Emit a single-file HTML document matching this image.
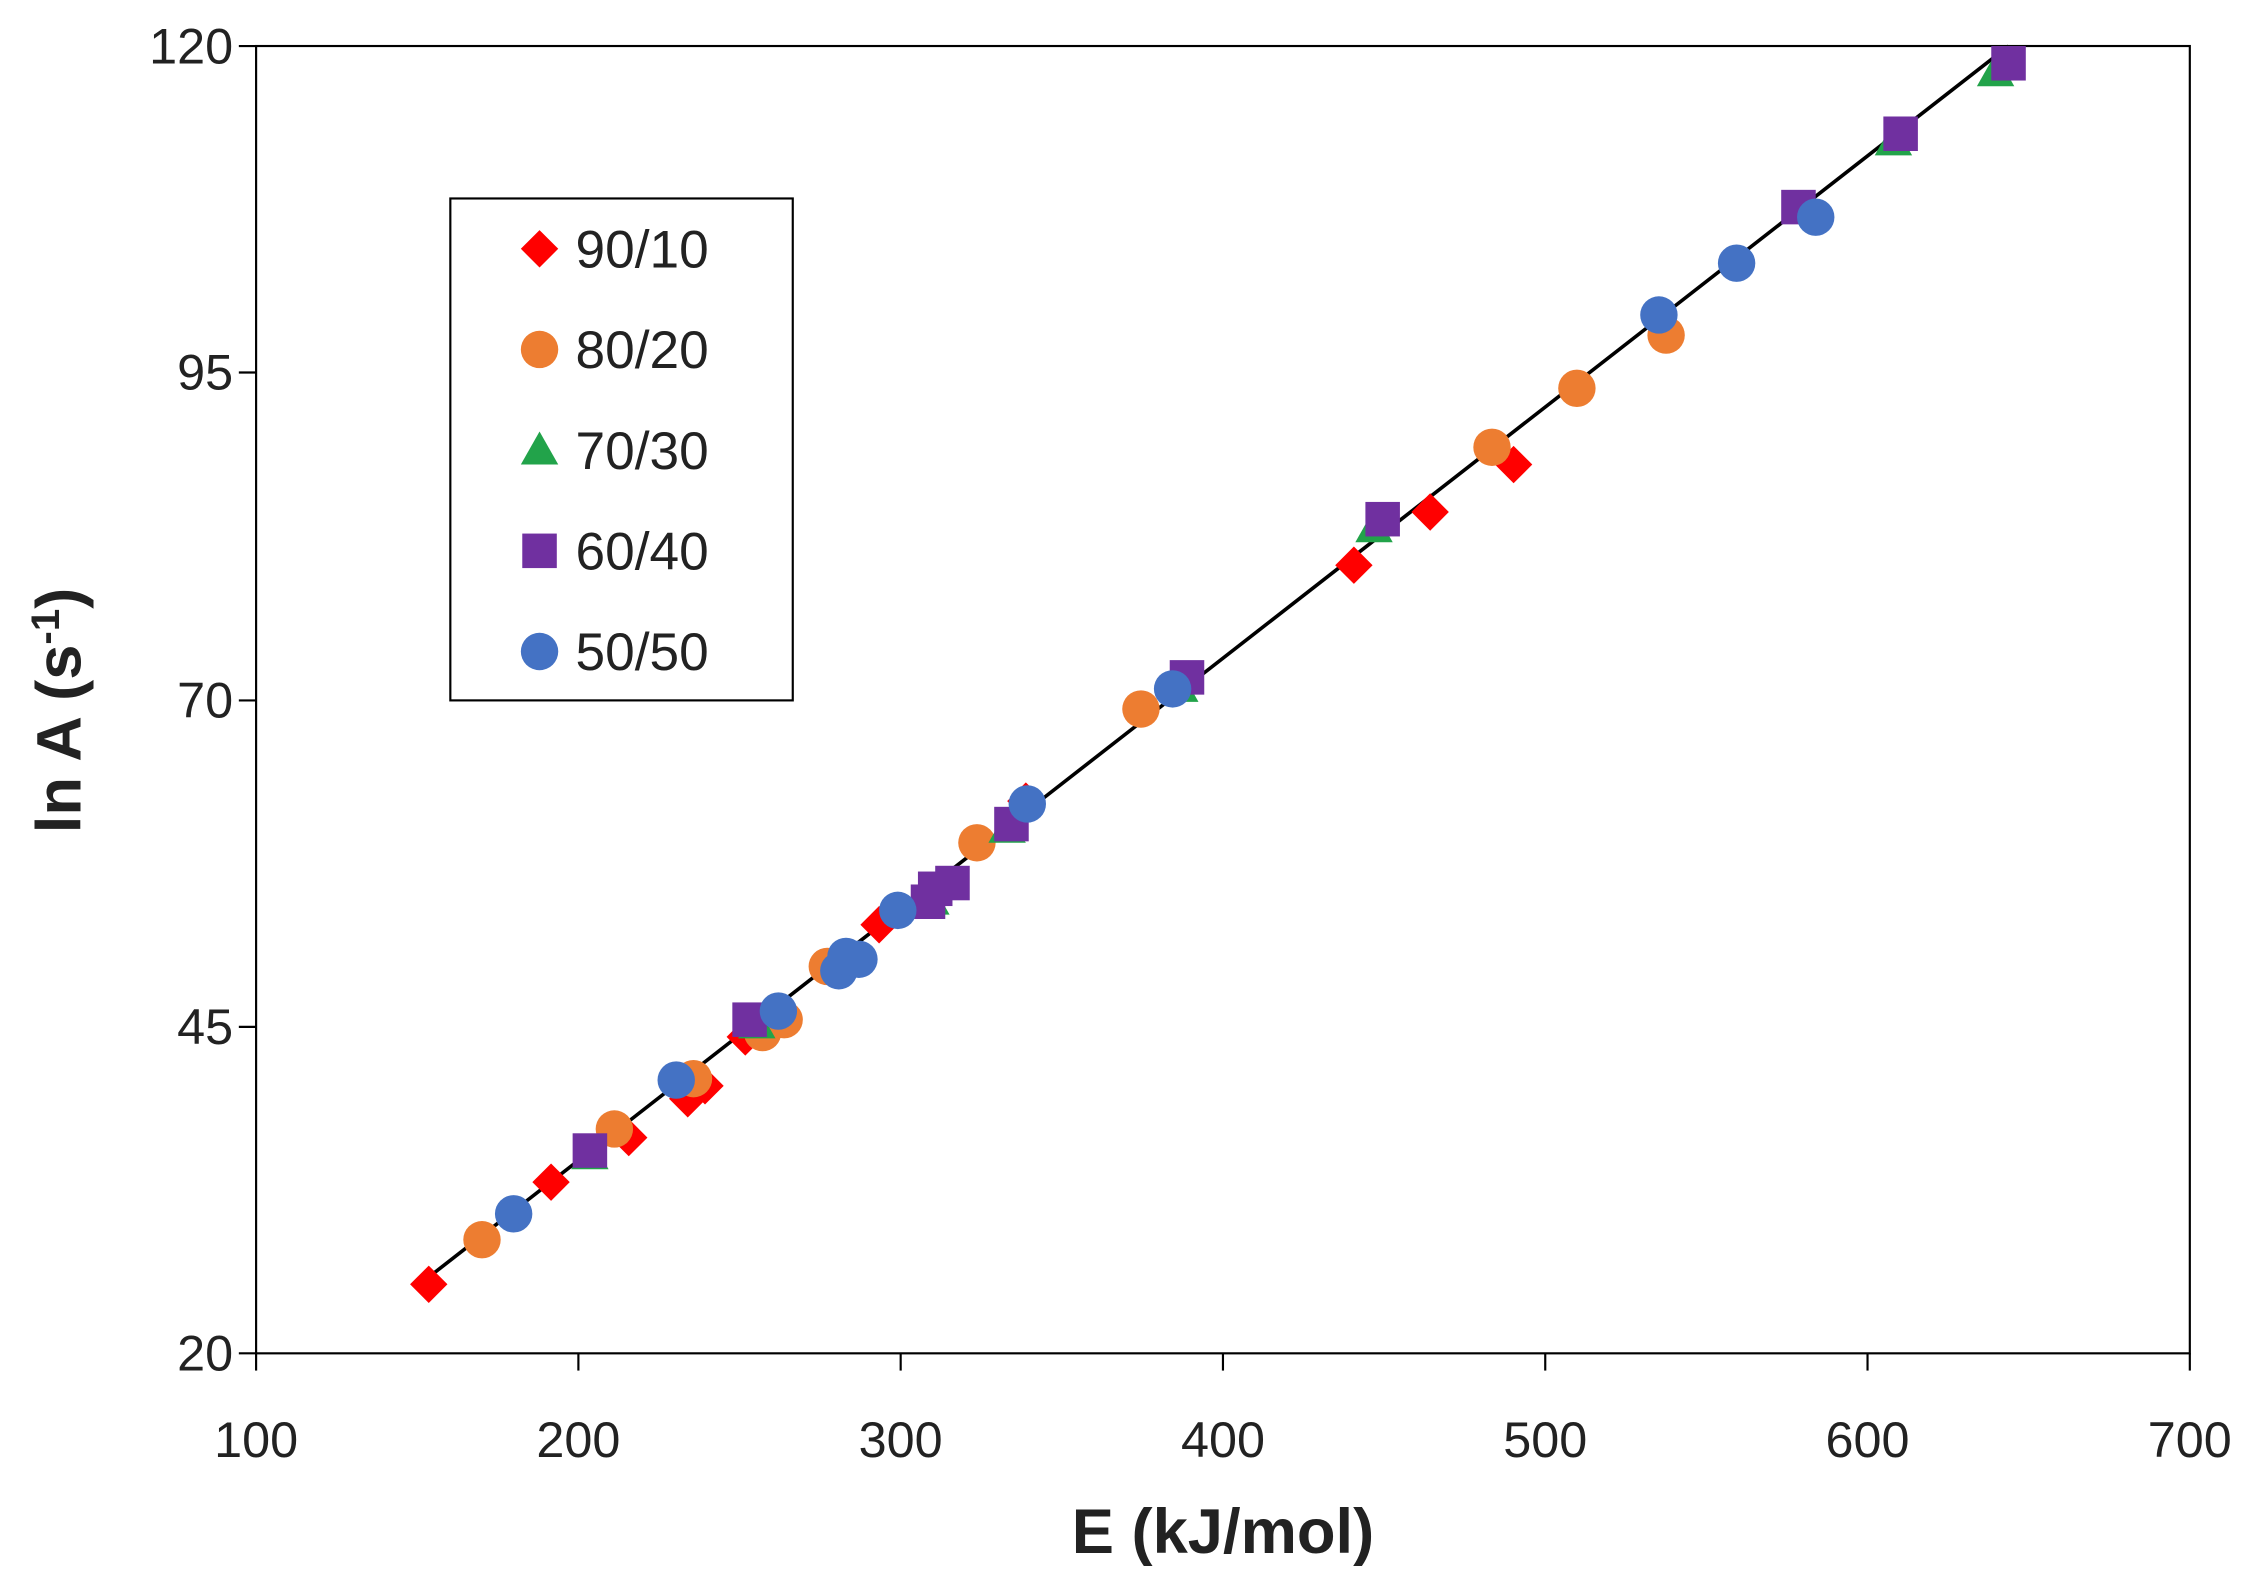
<!DOCTYPE html>
<html><head><meta charset="utf-8"><style>
html,body{margin:0;padding:0;background:#fff;}
svg{display:block;}
text{font-family:"Liberation Sans",sans-serif;fill:#222;}
</style></head><body>
<svg width="2256" height="1582" viewBox="0 0 1568 1100" preserveAspectRatio="none" xmlns="http://www.w3.org/2000/svg">
<rect x="0" y="0" width="1568" height="1100" fill="#fff"/>
<rect x="178" y="32" width="1344" height="909" fill="none" stroke="#000" stroke-width="1.5"/>
<g stroke="#000" stroke-width="1.5">
<line x1="166" y1="32" x2="178" y2="32"/><line x1="166" y1="259" x2="178" y2="259"/><line x1="166" y1="487" x2="178" y2="487"/><line x1="166" y1="714" x2="178" y2="714"/><line x1="166" y1="941" x2="178" y2="941"/>
<line x1="178" y1="941" x2="178" y2="953"/><line x1="402" y1="941" x2="402" y2="953"/><line x1="626" y1="941" x2="626" y2="953"/><line x1="850" y1="941" x2="850" y2="953"/><line x1="1074" y1="941" x2="1074" y2="953"/><line x1="1298" y1="941" x2="1298" y2="953"/><line x1="1522" y1="941" x2="1522" y2="953"/>
</g>
<g font-size="35" text-anchor="end">
<text x="162" y="44">120</text><text x="162" y="271">95</text><text x="162" y="499">70</text><text x="162" y="726">45</text><text x="162" y="953">20</text>
</g>
<g font-size="35" text-anchor="middle">
<text x="178" y="1013">100</text><text x="402" y="1013">200</text><text x="626" y="1013">300</text><text x="850" y="1013">400</text><text x="1074" y="1013">500</text><text x="1298" y="1013">600</text><text x="1522" y="1013">700</text>
</g>
<text x="850" y="1080" font-size="44" font-weight="bold" text-anchor="middle">E (kJ/mol)</text>
<text transform="translate(56,494) rotate(-90)" font-size="44" font-weight="bold" text-anchor="middle">ln A (s<tspan font-size="28" dy="-15">-1</tspan><tspan dy="15">)</tspan></text>
<line x1="298" y1="888" x2="1396" y2="32" stroke="#000" stroke-width="2.5"/>
<defs>
<path id="d" d="M0,-13 L13,0 L0,13 L-13,0Z" fill="#ff0000"/>
<circle id="o" r="13" fill="#ed7d31"/>
<path id="t" d="M0,-13 L13,10 L-13,10Z" fill="#22a34a"/>
<rect id="s" x="-12" y="-12" width="24" height="24" fill="#7030a0"/>
<circle id="b" r="13" fill="#4472c4"/>
</defs>
<g>
<use href="#d" x="298" y="893"/><use href="#d" x="383" y="822"/><use href="#d" x="437" y="791"/><use href="#d" x="478" y="764"/><use href="#d" x="490" y="755"/><use href="#d" x="518" y="721"/><use href="#d" x="611" y="643"/><use href="#d" x="941" y="393"/><use href="#d" x="994" y="356"/><use href="#d" x="1052" y="323"/><use href="#d" x="713" y="557"/>
<use href="#o" x="335" y="862"/><use href="#o" x="427" y="785"/><use href="#o" x="482" y="750"/><use href="#o" x="530" y="718"/><use href="#o" x="545" y="709"/><use href="#o" x="575" y="672"/><use href="#o" x="679" y="586"/><use href="#o" x="793" y="493"/><use href="#o" x="1037" y="311"/><use href="#o" x="1096" y="270"/><use href="#o" x="1158" y="233"/>
<use href="#t" x="410" y="803"/><use href="#t" x="526" y="712"/><use href="#t" x="647" y="626"/><use href="#t" x="700" y="576"/><use href="#t" x="820" y="478"/><use href="#t" x="955" y="367"/><use href="#t" x="1316" y="98"/><use href="#t" x="1387" y="50"/>
<use href="#s" x="410" y="800"/><use href="#s" x="521" y="709"/><use href="#s" x="645" y="627"/><use href="#s" x="650" y="618"/><use href="#s" x="662" y="614"/><use href="#s" x="703" y="573"/><use href="#s" x="825" y="471"/><use href="#s" x="961" y="361"/><use href="#s" x="1321" y="93"/><use href="#s" x="1250" y="144"/><use href="#s" x="1396" y="44"/>
<use href="#b" x="357" y="844"/><use href="#b" x="470" y="751"/><use href="#b" x="541" y="703"/><use href="#b" x="583" y="675"/><use href="#b" x="588" y="665"/><use href="#b" x="597" y="667"/><use href="#b" x="624" y="633"/><use href="#b" x="714" y="559"/><use href="#b" x="815" y="479"/><use href="#b" x="1153" y="219"/><use href="#b" x="1207" y="183"/><use href="#b" x="1262" y="151"/>
</g>
<rect x="313" y="138" width="238" height="349" fill="#fff" stroke="#000" stroke-width="1.5"/>
<use href="#d" x="375" y="173"/><use href="#o" x="375" y="243"/><use href="#t" x="375" y="313"/><use href="#s" x="375" y="383"/><use href="#b" x="375" y="453"/>
<g font-size="37">
<text x="400" y="186">90/10</text><text x="400" y="256">80/20</text><text x="400" y="326">70/30</text><text x="400" y="396">60/40</text><text x="400" y="466">50/50</text>
</g>
</svg>
</body></html>
